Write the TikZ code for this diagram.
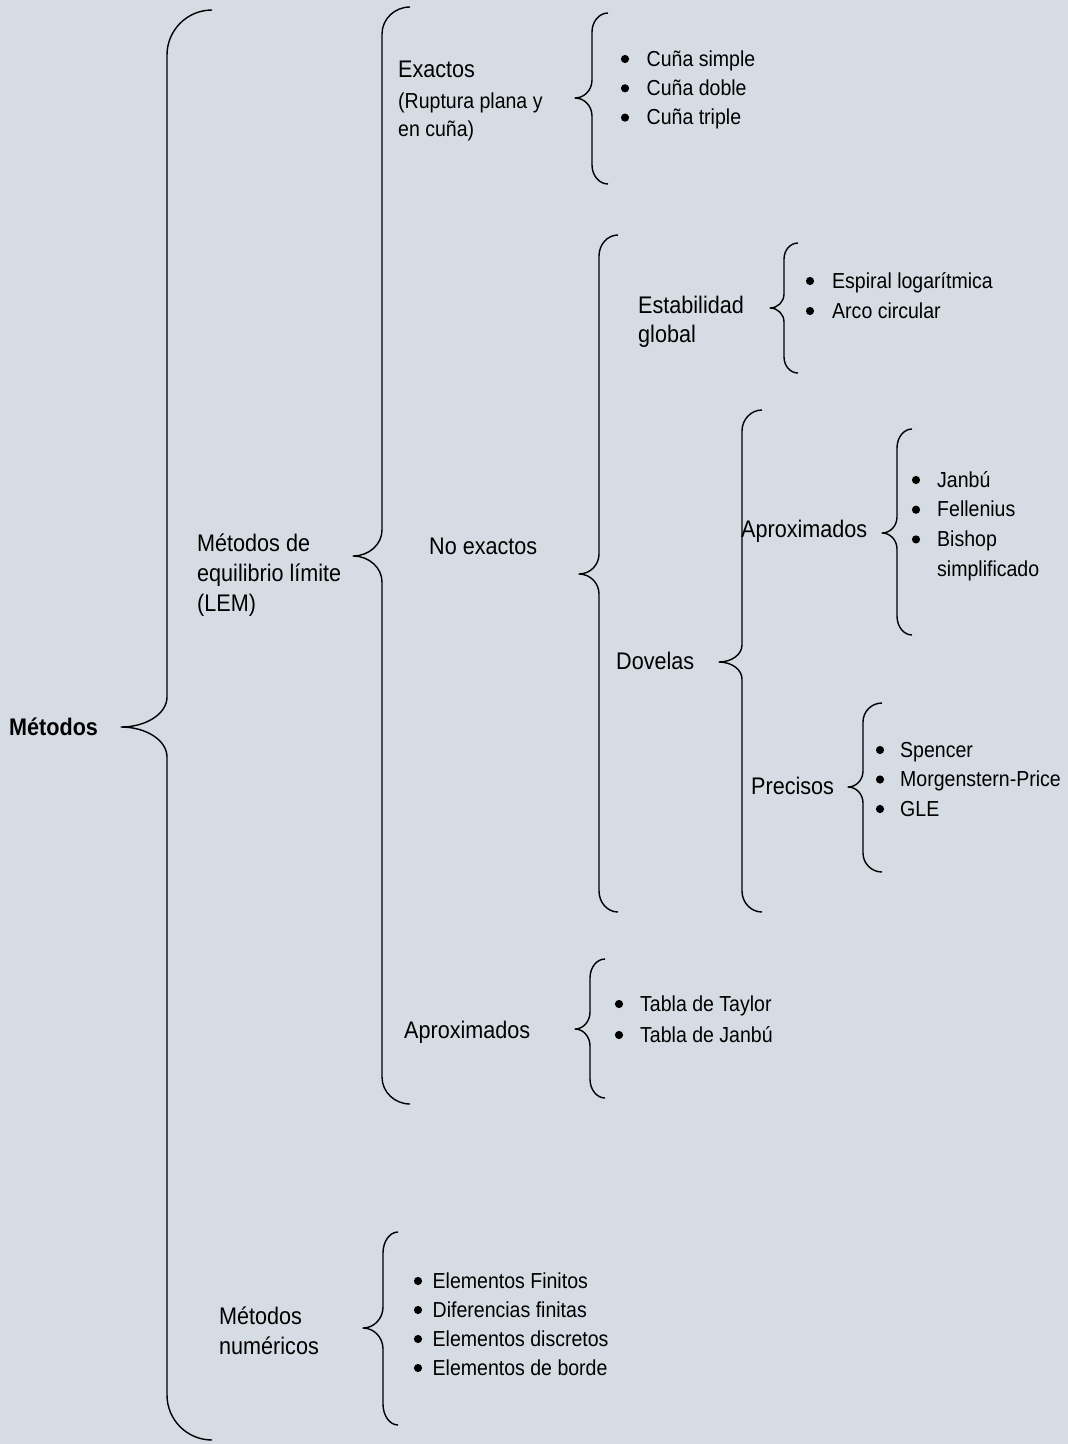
\documentclass[tikz,border=0pt]{standalone}
\usepackage{fontspec}
\setmainfont{Liberation Sans}[FakeStretch=0.9]
\definecolor{bgfill}{HTML}{D6DCE4}

% curly brace: #1 end x, #2 stem x, #3 tip x, #4 top y, #5 tip y, #6 bottom y,
% #7 height of the end hooks, #8 height of the tip curves
\newcommand\bracepath[8]{%
  \draw[brace line] (#1,#4)
    .. controls ({#2+0.448*(#1-#2)},#4) and (#2,{#4+0.448*#7}) .. (#2,{#4+#7})
    -- (#2,{#5-#8})
    .. controls (#2,{#5-0.448*#8}) and ({#3+0.552*(#2-#3)},#5) .. (#3,#5)
    .. controls ({#3+0.552*(#2-#3)},#5) and (#2,{#5+0.448*#8}) .. (#2,{#5+#8})
    -- (#2,{#6-#7})
    .. controls (#2,{#6-0.448*#7}) and ({#2+0.448*(#1-#2)},#6) .. (#1,#6);}

\tikzset{
  cat/.style={inner sep=0pt, anchor=base west, align=left,
    font=\fontsize{24}{#1}\selectfont},
  cat/.default=30,
  items/.style={inner sep=0pt, anchor=base west, align=left,
    font=\fontsize{21.7}{#1}\selectfont},
  items/.default=29.3,
  brace line/.style={line width=1.4pt, black, line join=round},
  dot/.style={fill=black}
}

\begin{document}
\begin{tikzpicture}[x=1pt, y=-1pt]
  \fill[bgfill] (0,0) rectangle (1068,1444);
  \useasboundingbox (0,0) rectangle (1068,1444);

  % braces
  \bracepath{212}{167}{121}{10}{727}{1440}{45}{30}
  \bracepath{410}{382}{353}{7}{556}{1104}{27}{26}
  \bracepath{608}{592}{575}{13}{98}{184}{19}{18}
  \bracepath{618}{599}{579}{235}{574}{912}{21}{20}
  \bracepath{798}{784}{770}{243}{308}{373}{16}{14}
  \bracepath{762}{742}{719}{410}{662}{912}{21}{17}
  \bracepath{912}{897}{882}{429}{533}{635}{19}{16}
  \bracepath{882}{863}{848}{703}{787}{872}{19}{16}
  \bracepath{605}{590}{575}{959}{1029}{1098}{19}{17}
  \bracepath{398}{383}{363}{1232}{1328}{1425}{21}{21}

  % category labels (multi-line nodes sit on the baseline of their last line)
  \node[cat, font=\fontsize{24}{30}\selectfont\bfseries] (root) at (9,735) {Métodos};
  \node[cat] (lem) at (197,611) {Métodos de\\equilibrio límite\\(LEM)};
  \node[cat] (exact) at (398,77) {Exactos};
  \node[items=27.5] (exactsub) at (398,136) {(Ruptura plana y\\en cuña)};
  \node[cat] (noexact) at (429,554) {No exactos};
  \node[cat=29] (global) at (638,342) {Estabilidad\\global};
  \node[cat] (dovelas) at (616,669) {Dovelas};
  \node[cat] (aproxa) at (741,537) {Aproximados};
  \node[cat] (precisos) at (751,794) {Precisos};
  \node[cat] (aproxb) at (404,1038) {Aproximados};
  \node[cat] (numer) at (219,1354) {Métodos\\numéricos};

  % list texts
  \node[items] (cunas) at (646.5,124.6) {Cuña simple\\Cuña doble\\Cuña triple};
  \node[items=30] (arcos) at (832,318) {Espiral logarítmica\\Arco circular};
  \node[items=29.7] (aproxlist) at (937,576.1)
    {Janbú\\Fellenius\\Bishop\\simplificado};
  \node[items=29.5] (precislist) at (900,816)
    {Spencer\\Morgenstern-Price\\GLE};
  \node[items=31] (tablas) at (640,1042) {Tabla de Taylor\\Tabla de Janbú};
  \node[items=29] (numlist) at (432.5,1375)
    {Elementos Finitos\\Diferencias finitas\\Elementos discretos\\Elementos de borde};

  % list bullets
  \foreach \bx/\by in {625/66, 625/95.3, 625/124.6,
                       810/288, 810/318,
                       916/487, 916/516.7, 916/546.4,
                       880/757, 880/786.5, 880/816,
                       619/1011, 619/1042,
                       418/1288, 418/1317, 418/1346, 418/1375}
    \fill[dot] (\bx,\by-7) circle (4.1);
\end{tikzpicture}
\end{document}
